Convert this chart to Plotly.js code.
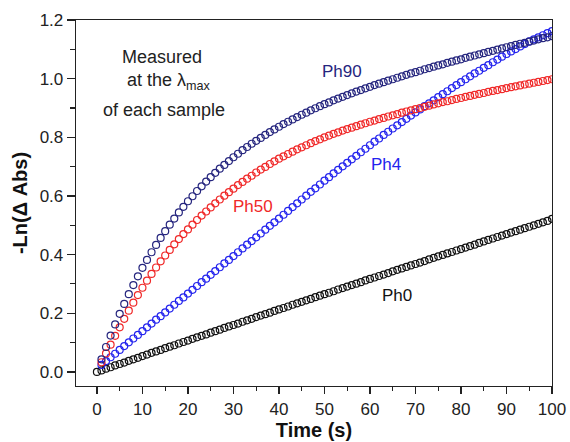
<!DOCTYPE html>
<html>
<head>
<meta charset="utf-8">
<script src="https://cdn.plot.ly/plotly-3.0.1.min.js"></script>
<style>html,body{margin:0;padding:0;background:#fff}#chart{width:570px;height:442px}</style>
</head>
<body>
<div id="chart"></div>
<script>
// Time axis (s)
const timePh0 = [0,1,2,3,4,5,6,7,8,9,10,11,12,13,14,15,16,17,18,19,20,21,22,23,24,25,26,27,28,29,30,31,32,33,34,35,36,37,38,39,40,41,42,43,44,45,46,47,48,49,50,51,52,53,54,55,56,57,58,59,60,61,62,63,64,65,66,67,68,69,70,71,72,73,74,75,76,77,78,79,80,81,82,83,84,85,86,87,88,89,90,91,92,93,94,95,96,97,98,99,100];
const timeOthers = [1,2,3,4,5,6,7,8,9,10,11,12,13,14,15,16,17,18,19,20,21,22,23,24,25,26,27,28,29,30,31,32,33,34,35,36,37,38,39,40,41,42,43,44,45,46,47,48,49,50,51,52,53,54,55,56,57,58,59,60,61,62,63,64,65,66,67,68,69,70,71,72,73,74,75,76,77,78,79,80,81,82,83,84,85,86,87,88,89,90,91,92,93,94,95,96,97,98,99,100];

// -Ln(ΔAbs) values
const ph0 = [0,0.005,0.011,0.016,0.022,0.027,0.032,0.038,0.043,0.048,0.054,0.059,0.065,0.070,0.075,0.081,0.086,0.091,0.097,0.102,0.107,0.113,0.118,0.123,0.128,0.134,0.139,0.144,0.150,0.155,0.160,0.165,0.171,0.176,0.181,0.187,0.192,0.197,0.202,0.208,0.213,0.218,0.223,0.229,0.234,0.239,0.244,0.249,0.255,0.260,0.265,0.270,0.275,0.281,0.286,0.291,0.296,0.301,0.306,0.312,0.317,0.322,0.327,0.332,0.337,0.343,0.348,0.353,0.358,0.363,0.368,0.373,0.378,0.384,0.389,0.394,0.399,0.404,0.409,0.414,0.419,0.424,0.429,0.434,0.440,0.445,0.450,0.455,0.460,0.465,0.470,0.475,0.480,0.485,0.490,0.495,0.500,0.505,0.510,0.515,0.522];

const ph4 = [0.024,0.037,0.050,0.062,0.075,0.088,0.101,0.114,0.126,0.139,0.152,0.165,0.178,0.190,0.203,0.216,0.229,0.242,0.254,0.267,0.280,0.293,0.306,0.318,0.331,0.344,0.357,0.370,0.382,0.395,0.408,0.421,0.434,0.446,0.459,0.472,0.485,0.498,0.510,0.523,0.536,0.549,0.562,0.575,0.588,0.601,0.614,0.626,0.639,0.652,0.664,0.677,0.689,0.701,0.713,0.725,0.737,0.749,0.761,0.773,0.785,0.796,0.808,0.819,0.830,0.841,0.852,0.863,0.874,0.885,0.895,0.906,0.916,0.926,0.937,0.947,0.957,0.968,0.978,0.988,0.998,1.008,1.018,1.027,1.037,1.046,1.056,1.065,1.075,1.084,1.093,1.101,1.110,1.118,1.127,1.134,1.141,1.148,1.155,1.162];

const ph50 = [0.033,0.063,0.093,0.123,0.152,0.181,0.209,0.236,0.262,0.287,0.311,0.334,0.356,0.377,0.397,0.416,0.435,0.453,0.470,0.486,0.502,0.518,0.533,0.547,0.561,0.575,0.588,0.601,0.613,0.625,0.637,0.648,0.659,0.669,0.680,0.690,0.699,0.709,0.718,0.727,0.735,0.743,0.751,0.759,0.766,0.773,0.780,0.787,0.793,0.800,0.806,0.812,0.817,0.823,0.828,0.833,0.838,0.843,0.848,0.853,0.857,0.862,0.866,0.871,0.875,0.879,0.884,0.888,0.892,0.896,0.900,0.904,0.908,0.912,0.916,0.920,0.923,0.927,0.931,0.934,0.938,0.941,0.945,0.948,0.951,0.955,0.958,0.961,0.964,0.968,0.971,0.974,0.977,0.980,0.983,0.986,0.989,0.992,0.995,0.998];

const ph90 = [0.043,0.085,0.124,0.162,0.198,0.232,0.265,0.296,0.326,0.355,0.382,0.408,0.433,0.457,0.480,0.502,0.523,0.544,0.563,0.582,0.599,0.617,0.633,0.649,0.664,0.679,0.693,0.706,0.719,0.732,0.744,0.756,0.767,0.778,0.788,0.798,0.808,0.818,0.827,0.836,0.845,0.853,0.861,0.869,0.877,0.884,0.892,0.899,0.906,0.913,0.919,0.926,0.932,0.938,0.944,0.950,0.956,0.961,0.967,0.972,0.978,0.983,0.988,0.993,0.998,1.003,1.008,1.013,1.018,1.022,1.027,1.032,1.036,1.041,1.045,1.049,1.054,1.058,1.062,1.066,1.071,1.075,1.079,1.083,1.087,1.091,1.095,1.099,1.103,1.107,1.111,1.115,1.119,1.122,1.126,1.130,1.134,1.138,1.141,1.145];

const seriesNames = ["Ph0","Ph4","Ph50","Ph90"];
const seriesColors = ["#111111","#2323ee","#f02828","#25257e"];
const xTicks = [0,10,20,30,40,50,60,70,80,90,100];
const yTicks = [0.0,0.2,0.4,0.6,0.8,1.0,1.2];
const yTickText = ["0.0","0.2","0.4","0.6","0.8","1.0","1.2"];

const xs = [timePh0, timeOthers, timeOthers, timeOthers];
const ys = [ph0, ph4, ph50, ph90];

const traces = seriesNames.map((n,i)=>({
  type:'scatter', mode:'markers', name:n, x:xs[i], y:ys[i],
  marker:{symbol:'circle-open', size:7, color:seriesColors[i], line:{width:1.2, color:seriesColors[i]}},
  showlegend:false, hoverinfo:'skip'
}));

const font = "Liberation Sans, Arial, sans-serif";
const ann = (text, x, y, color, size) => ({text, x, y, xref:'x', yref:'y', showarrow:false,
  font:{family:font, size:size, color:color}, xanchor:'center', yanchor:'middle'});

const layout = {
  width:570, height:442,
  margin:{l:76, r:18, t:20, b:56},
  paper_bgcolor:'#fff', plot_bgcolor:'#fff',
  font:{family:font, color:'#222'},
  xaxis:{
    range:[-4.6,100], tickvals:xTicks, ticktext:xTicks.map(String),
    showgrid:false, zeroline:false, showline:true, linecolor:'#222', linewidth:1.3, mirror:true,
    ticks:'outside', ticklen:7, tickwidth:1.2, tickcolor:'#222',
    minor:{dtick:5, tick0:0, ticks:'outside', ticklen:4, tickwidth:1.1, tickcolor:'#222', showgrid:false},
    tickfont:{family:font, size:17, color:'#222'},
    title:{text:'<b>Time (s)</b>', font:{family:font, size:20, color:'#111'}, standoff:3}
  },
  yaxis:{
    range:[-0.048,1.2], tickvals:yTicks, ticktext:yTickText,
    showgrid:false, zeroline:false, showline:true, linecolor:'#222', linewidth:1.3, mirror:true,
    ticks:'outside', ticklen:8, tickwidth:1.2, tickcolor:'#222',
    minor:{dtick:0.1, tick0:0, ticks:'outside', ticklen:5, tickwidth:1.1, tickcolor:'#222', showgrid:false},
    tickfont:{family:font, size:17, color:'#222'},
    title:{text:'<b>-Ln(Δ Abs)</b>', font:{family:font, size:20, color:'#111'}, standoff:6}
  },
  annotations:[
    ann('Measured', 14.3, 1.074, '#222', 18),
    ann('at the λ<sub>max</sub>', 15.8, 0.989, '#222', 18),
    ann('of each sample', 14.7, 0.893, '#222', 18),
    ann('Ph90', 53.8, 1.023, seriesColors[3], 17),
    ann('Ph50', 34.3, 0.563, seriesColors[2], 17),
    ann('Ph4', 63.5, 0.706, seriesColors[1], 17),
    ann('Ph0', 65.9, 0.259, seriesColors[0], 17)
  ]
};

Plotly.newPlot('chart', traces, layout, {displayModeBar:false, staticPlot:true});
</script>
</body>
</html>
